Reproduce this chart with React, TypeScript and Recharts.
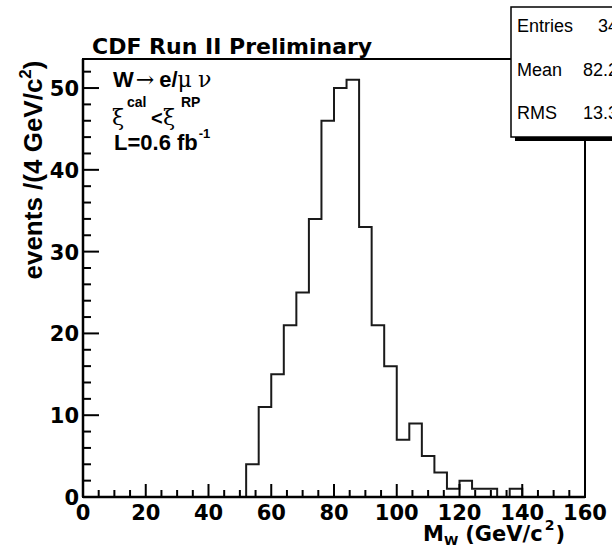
import { ComposedChart, Line, XAxis, YAxis, ReferenceArea } from 'recharts'

// histogram: lower bin edges (4 GeV bins) and counts
const binLow = [
  0, 4, 8, 12, 16, 20, 24, 28, 32, 36, 40, 44, 48, 52, 56, 60, 64, 68, 72, 76,
  80, 84, 88, 92, 96, 100, 104, 108, 112, 116, 120, 124, 128, 132, 136, 140, 144, 148, 152, 156,
]
const counts = [
  0, 0, 0, 0, 0, 0, 0, 0, 0, 0, 0, 0, 0, 4, 11, 15, 21, 25, 34, 46,
  50, 51, 33, 21, 16, 7, 9, 5, 3, 1, 2, 1, 1, 0, 1, 0, 0, 0, 0, 0,
]
const xMin = 0
const xMax = 160
const yMax = 53.55

const xTicks = [
  0, 5, 10, 15, 20, 25, 30, 35, 40, 45, 50, 55, 60, 65, 70, 75, 80,
  85, 90, 95, 100, 105, 110, 115, 120, 125, 130, 135, 140, 145, 150, 155, 160,
]
const xMajor = [0, 20, 40, 60, 80, 100, 120, 140, 160]
const yTicks = [
  0, 2, 4, 6, 8, 10, 12, 14, 16, 18, 20, 22, 24, 26, 28, 30, 32, 34, 36, 38,
  40, 42, 44, 46, 48, 50, 52,
]
const yMajor = [0, 10, 20, 30, 40, 50]

const statLabels = ['Entries', 'Mean', 'RMS']
const statValues = ['348', '82.25', '13.35']

const data = [
  ...binLow.map((x, i) => ({ x, count: counts[i] })),
  { x: xMax, count: 0 },
]

const BOLD = '"DejaVu Sans", sans-serif'
const ARIAL = '"Liberation Sans", Arial, sans-serif'
const GREEK = '"DejaVu Serif", "Liberation Serif", serif'

function XTick(props: any) {
  const { x, y, payload } = props
  const v = payload.value
  const major = xMajor.includes(v)
  return (
    <g>
      <line x1={x} y1={y} x2={x} y2={y - (major ? 13 : 7)} stroke="#000" strokeWidth={2} />
      {major && (
        <text x={x} y={y + 23} textAnchor="middle" fontFamily={BOLD} fontWeight="bold" fontSize={21} fill="#000">
          {v}
        </text>
      )}
    </g>
  )
}

function YTick(props: any) {
  const { x, y, payload } = props
  const v = payload.value
  const major = yMajor.includes(v)
  return (
    <g>
      <line x1={x} y1={y} x2={x + (major ? 16 : 8)} y2={y} stroke="#000" strokeWidth={2} />
      {major && (
        <text x={x - 4} y={y + 8} textAnchor="end" fontFamily={BOLD} fontWeight="bold" fontSize={21} fill="#000">
          {v}
        </text>
      )}
    </g>
  )
}

export default function App() {
  return (
    <div style={{ position: 'absolute', left: 0, top: 0, width: 612, height: 550, background: '#fff' }}>
      <ComposedChart width={612} height={550} data={data} margin={{ top: 59, right: 27, left: 0, bottom: 0 }}>
        <XAxis
          dataKey="x"
          type="number"
          domain={[xMin, xMax]}
          ticks={xTicks}
          interval={0}
          tickSize={0}
          tickMargin={0}
          tickLine={false}
          tick={<XTick />}
          height={53}
          axisLine={{ stroke: '#000', strokeWidth: 2.5 }}
          allowDataOverflow
        />
        <YAxis
          type="number"
          domain={[0, yMax]}
          ticks={yTicks}
          interval={0}
          tickSize={0}
          tickMargin={0}
          tickLine={false}
          tick={<YTick />}
          width={83}
          axisLine={{ stroke: '#000', strokeWidth: 2.5 }}
          allowDataOverflow
        />
        <ReferenceArea x1={xMin} x2={xMax} y1={0} y2={yMax} fill="none" stroke="#000" strokeWidth={2} fillOpacity={0} />
        <Line
          dataKey="count"
          type="stepAfter"
          stroke="#1a1a1a"
          strokeWidth={2}
          dot={false}
          isAnimationActive={false}
        />
      </ComposedChart>

      <svg width={612} height={550} style={{ position: 'absolute', left: 0, top: 0, pointerEvents: 'none' }}>
        <text x={92} y={54} fontFamily={BOLD} fontWeight="bold" fontSize={22} fill="#000">
          CDF Run II Preliminary
        </text>

        {/* stats box */}
        <rect x={515} y={11} width={120} height={130} fill="#000" />
        <rect x={511} y={7} width={120} height={130} fill="#fff" stroke="#000" strokeWidth={1.5} />
        {statLabels.map((s, i) => (
          <g key={s}>
            <text x={517} y={32 + i * 43.5} fontFamily={ARIAL} fontSize={18} fill="#000">
              {s}
            </text>
            <text x={628} y={32 + i * 43.5} textAnchor="end" fontFamily={ARIAL} fontSize={18} fill="#000">
              {statValues[i]}
            </text>
          </g>
        ))}

        {/* annotations */}
        <text x={113} y={87} fontFamily={ARIAL} fontWeight="bold" fontSize={22} fill="#000">
          W
          <tspan fontFamily={GREEK} fontWeight="normal" dx={2}>→</tspan>
          <tspan dx={5}>e/</tspan>
          <tspan fontFamily={GREEK} fontWeight="normal">μ</tspan>
          <tspan fontFamily={GREEK} fontWeight="normal" dx={6}>ν</tspan>
        </text>
        <text x={112} y={125} fontFamily={GREEK} fontSize={22} fill="#000">ξ</text>
        <text x={127} y={107} fontFamily={ARIAL} fontWeight="bold" fontSize={14} fill="#000">cal</text>
        <text x={151} y={125} fontFamily={ARIAL} fontWeight="bold" fontSize={20} fill="#000">&lt;</text>
        <text x={163} y={125} fontFamily={GREEK} fontSize={22} fill="#000">ξ</text>
        <text x={181} y={107} fontFamily={ARIAL} fontWeight="bold" fontSize={14} fill="#000">RP</text>
        <text x={114} y={150} fontFamily={ARIAL} fontWeight="bold" fontSize={22} fill="#000">
          L=0.6 fb
          <tspan fontSize={13} dy={-12} dx={1}>-1</tspan>
        </text>

        {/* axis titles */}
        <text
          transform="translate(42,170) rotate(-90)"
          textAnchor="middle"
          fontFamily={ARIAL}
          fontWeight="bold"
          fontSize={26}
          fill="#000"
        >
          events /(4 GeV/c
          <tspan fontSize={17} dy={-11}>2</tspan>
          <tspan dy={11}>)</tspan>
        </text>
        <text x={423} y={541} fontFamily={BOLD} fontWeight="bold" fontSize={21} fill="#000">
          M
          <tspan fontSize={13} dy={4}>W</tspan>
          <tspan dy={-4} dx={7}>(GeV/c</tspan>
          <tspan fontSize={14} dy={-11} dx={2}>2</tspan>
          <tspan dy={11} dx={1}>)</tspan>
        </text>
      </svg>
    </div>
  )
}
